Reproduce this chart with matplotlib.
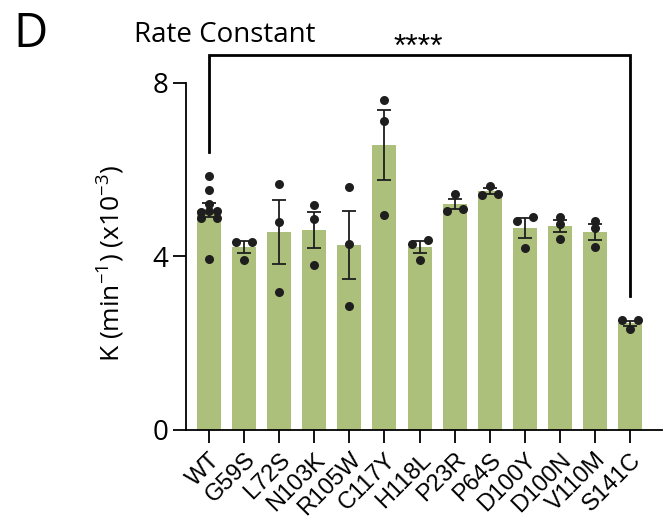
import numpy as np
import matplotlib
matplotlib.use('Agg')
import matplotlib.pyplot as plt
import matplotlib.transforms as mtransforms

plt.rcParams['font.family'] = ['Open Sans', 'DejaVu Sans']
plt.rcParams['mathtext.fontset'] = 'custom'
plt.rcParams['mathtext.rm'] = 'Open Sans'
plt.rcParams['mathtext.it'] = 'Open Sans'

#..::Dados::..#
groups = ['WT', 'G59S', 'L72S', 'N103K', 'R105W', 'C117Y', 'H118L',
          'P23R', 'P64S', 'D100Y', 'D100N', 'V110M', 'S141C']
means = [5.07, 4.22, 4.56, 4.61, 4.26, 6.57, 4.22, 5.21, 5.51, 4.65, 4.70, 4.56, 2.46]
sems = [0.16, 0.13, 0.74, 0.41, 0.78, 0.80, 0.13, 0.11, 0.06, 0.23, 0.13, 0.19, 0.06]
pts = [
    [5.86, 5.53, 5.20, 5.03, 5.05, 5.05, 4.89, 4.89, 3.94],
    [4.34, 4.33, 3.93],
    [5.68, 4.80, 3.17],
    [5.18, 4.86, 3.80],
    [5.61, 4.29, 2.86],
    [7.60, 7.13, 4.95],
    [4.39, 4.29, 3.93],
    [5.43, 5.05, 5.09],
    [5.63, 5.42, 5.43],
    [4.92, 4.82, 4.19],
    [4.92, 4.74, 4.40],
    [4.82, 4.65, 4.22],
    [2.53, 2.53, 2.32],
]
signif = '****'

#..::Figura::..#
fig = plt.figure(figsize=(6.65, 5.2), dpi=100)
ax = fig.add_axes([0.2797, 0.1731, 0.7158, 0.6673])

ind = np.arange(len(groups))
width = 0.684
ax.bar(ind, means, width, color='#adc07b', zorder=1)
ax.errorbar(ind, means, yerr=sems, fmt='none', ecolor='#1e1e1e', elinewidth=1.3,
            capsize=4.7, capthick=1.3, zorder=2)

# espalhamento dos pontos (px -> unidades)
pxx = 476 / 13.57
pxy = 347 / 8.0
for i, vals in enumerate(pts):
    order = np.argsort(vals)
    v = np.array(vals)[order]
    xs = np.zeros(len(v))
    k = 0
    while k < len(v):
        j = k
        while j + 1 < len(v) and (v[j + 1] - v[k]) * pxy < 5.5:
            j += 1
        n = j - k + 1
        if n > 1:
            xs[k:j + 1] = np.linspace(-8, 8, n) / pxx
        k = j + 1
    ax.plot(i + xs, v, 'o', color='#1e1e1e', markersize=6.5, markeredgewidth=0,
            zorder=3, clip_on=False)

ax.set_xlim(-0.656, 12.91)
ax.set_ylim(0, 8)
ax.set_yticks([0, 4, 8])
ax.set_xticks(ind)
xtickNames = ax.set_xticklabels(groups, rotation=45, ha='right', va='top',
                                rotation_mode='anchor', family='Liberation Sans',
                                fontsize=17)
desloc = mtransforms.ScaledTranslation(-12 / 100, 8 / 100, fig.dpi_scale_trans)
for lbl in xtickNames:
    lbl.set_transform(lbl.get_transform() + desloc)
for s in ['top', 'right']:
    ax.spines[s].set_visible(False)
for s in ['left', 'bottom']:
    ax.spines[s].set_linewidth(1.3)
ax.tick_params(axis='y', length=9.5, width=1.3, pad=3, labelsize=20)
ax.tick_params(axis='x', length=9.5, width=1.3, pad=4)
ax.set_ylabel('K (min$^{-1}$) (x10$^{-3}$)', fontsize=19)
ax.yaxis.set_label_coords(-0.124, 0.48)

# barra de significancia
top = 8.64
ax.plot([0, 0, 12, 12], [6.41, top, top, 3.09], color='black', lw=2, clip_on=False,
        solid_joinstyle='miter')
fig.text(418 / 665, 1 - 56 / 520, signif, ha='center', va='baseline',
         family='Liberation Sans', fontsize=23)

fig.text(134 / 665, 1 - 42 / 520, 'Rate Constant', ha='left', va='baseline', fontsize=20)
fig.text(13 / 665, 1 - 47 / 520, 'D', ha='left', va='baseline', fontsize=34)

plt.savefig('out.png', dpi=100)
